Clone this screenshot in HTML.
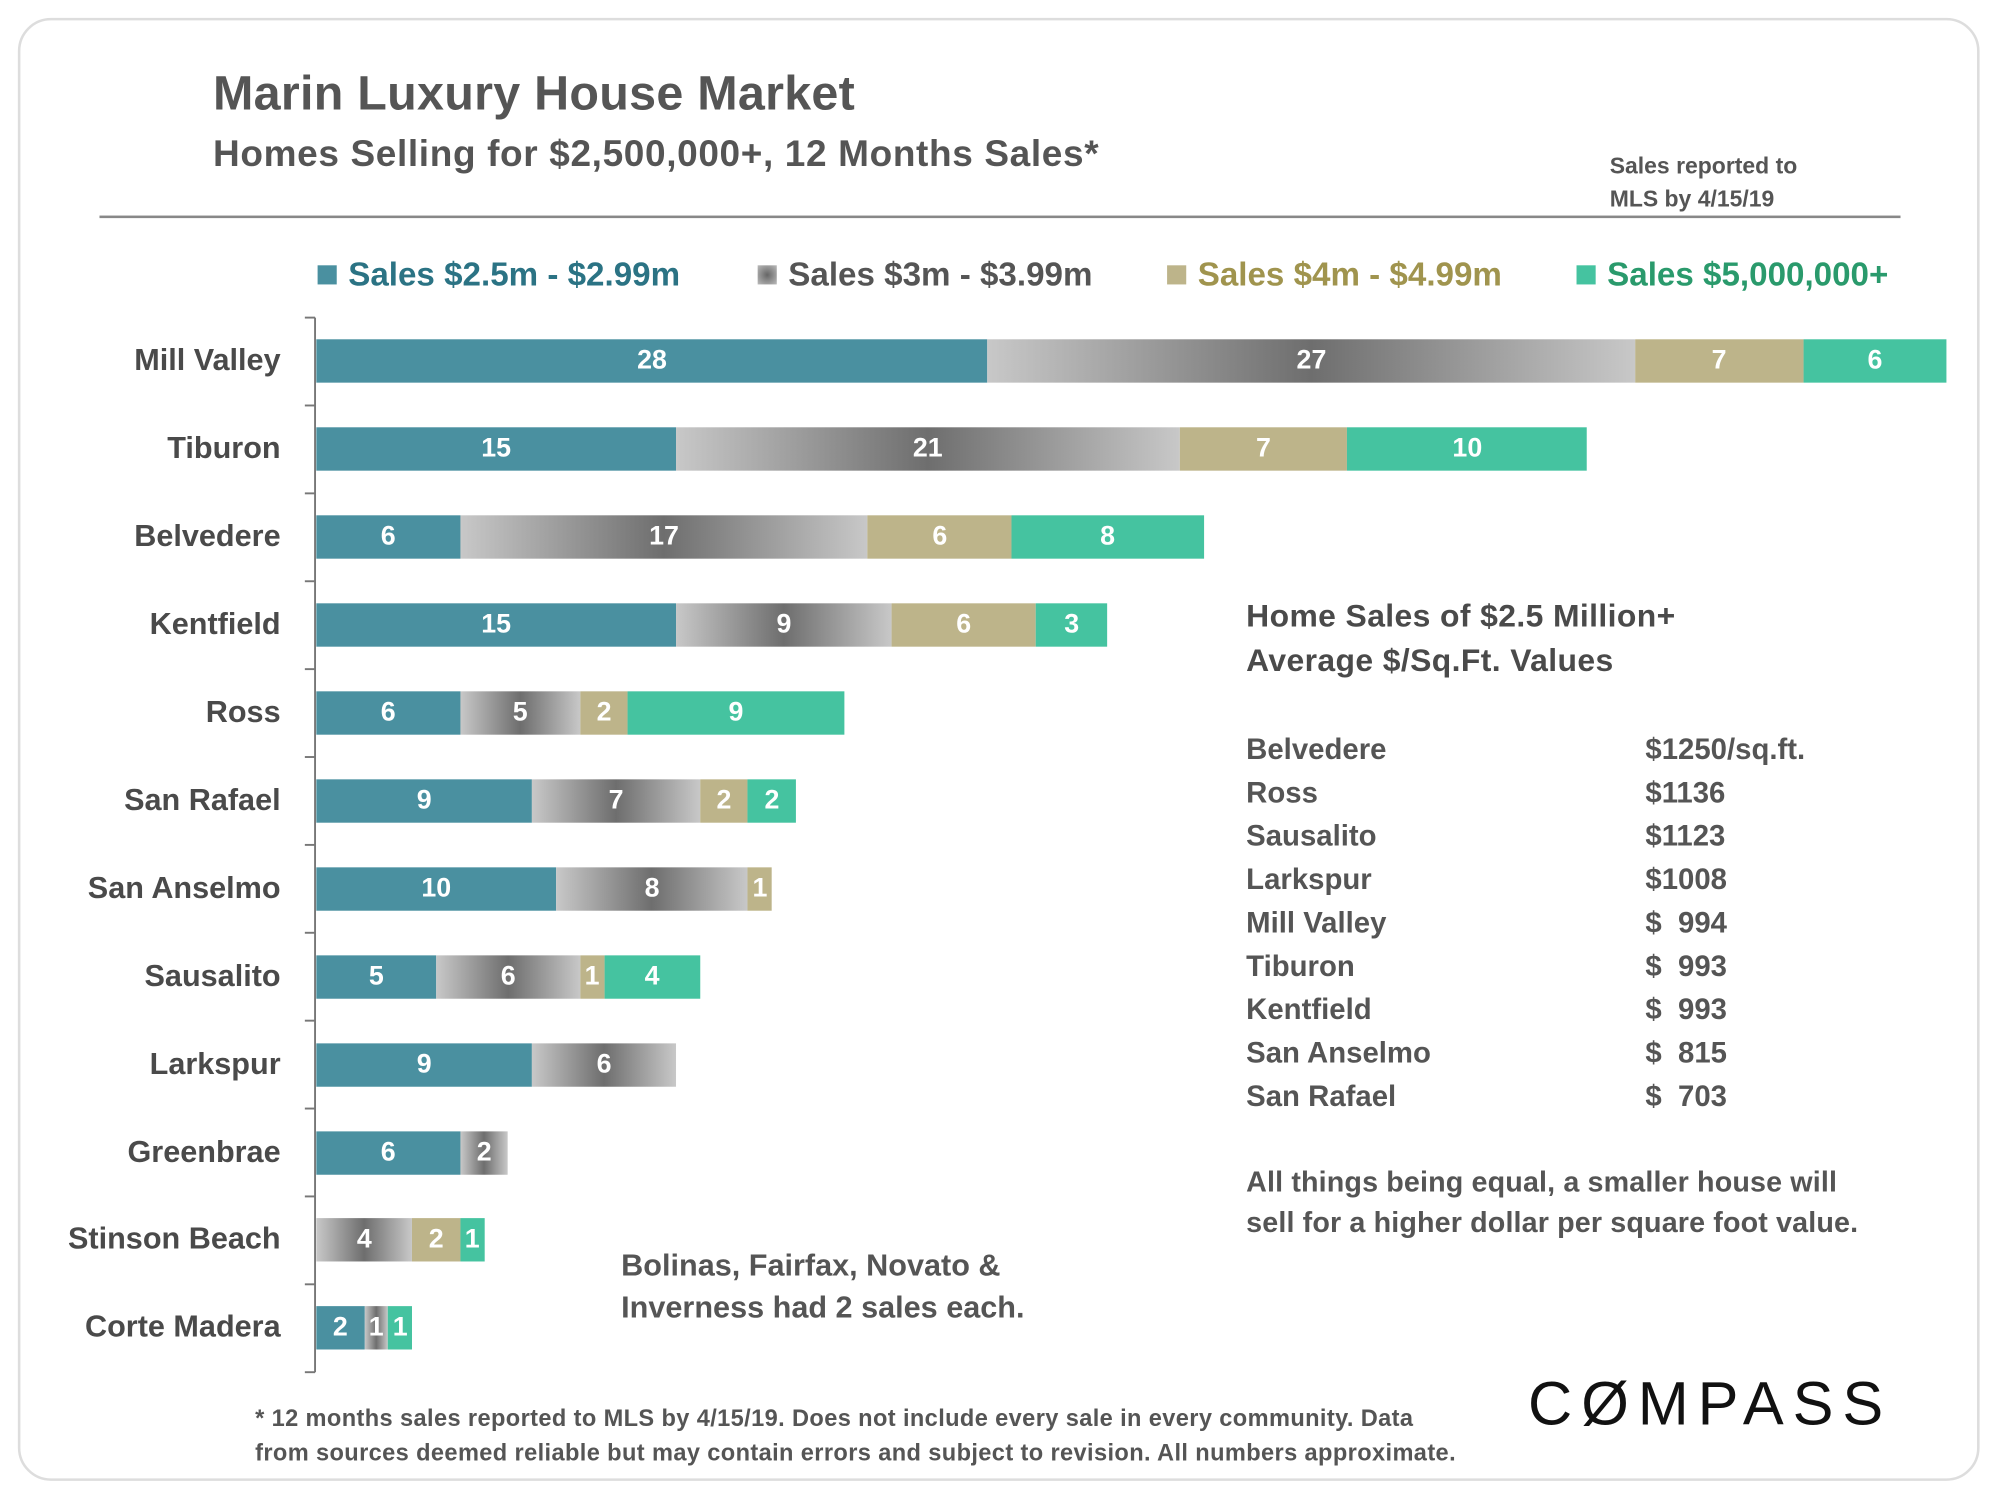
<!DOCTYPE html>
<html><head><meta charset="utf-8">
<style>
html,body{margin:0;padding:0;background:#fff;}
body{width:2000px;height:1500px;overflow:hidden;position:relative;}
#stage{position:absolute;left:0;top:0;width:1568px;height:1176px;transform:scale(1.27551);transform-origin:0 0;font-family:"Liberation Sans",sans-serif;font-weight:bold;color:#555;}
.t{position:absolute;white-space:nowrap;}
.card{position:absolute;left:14px;top:14px;width:1538px;height:1147px;border:2px solid #ddd;border-radius:26px;box-sizing:border-box;}
.leg{position:absolute;top:200px;font-size:26px;letter-spacing:0px;white-space:nowrap;}
.leg i{display:inline-block;width:15px;height:15px;margin-right:9px;vertical-align:1px;}
.cat{position:absolute;right:1348px;font-size:24px;color:#4a4a4a;letter-spacing:0px;white-space:nowrap;transform:translateY(-50%);}
.seg{position:absolute;height:34px;color:#fff;font-size:21px;display:flex;align-items:center;justify-content:center;overflow:visible;}
.pl{font-size:23px;letter-spacing:0px;}
</style></head><body>
<div id="stage">
  <div class="card"></div>
  <div class="t" style="left:167px;top:53px;font-size:38px;color:#555;letter-spacing:0.2px">Marin Luxury House Market</div>
  <div class="t" style="left:167px;top:105px;font-size:29px;color:#555;letter-spacing:0.5px">Homes Selling for $2,500,000+, 12 Months Sales*</div>
  <div class="t" style="left:1262px;top:117px;font-size:18px;line-height:26px;color:#555">Sales reported to<br>MLS by 4/15/19</div>
  <div style="position:absolute;left:78px;top:169px;width:1412px;height:2px;background:#888"></div>

  <div class="leg" style="left:249px;color:#2b7384"><i style="background:#4a90a0"></i>Sales $2.5m - $2.99m</div>
  <div class="leg" style="left:594px;color:#555"><i style="background:radial-gradient(#666,#bbb)"></i>Sales $3m - $3.99m</div>
  <div class="leg" style="left:915px;color:#a0944e"><i style="background:#bdb48a"></i>Sales $4m - $4.99m</div>
  <div class="leg" style="left:1236px;color:#2a9a6c"><i style="background:#45c3a0"></i>Sales $5,000,000+</div>

  <svg id="plot" style="position:absolute;left:0;top:0" width="1568" height="1176"></svg>
  <div id="bars"></div>

  <div class="t" style="left:977px;top:466px;font-size:25px;line-height:35px;color:#4a4a4a;letter-spacing:0.3px">Home Sales of $2.5 Million+<br>Average $/Sq.Ft. Values</div>
  <div id="ppsf"></div>
  <div class="t" style="left:977px;top:911px;font-size:22.5px;line-height:32px;color:#555;letter-spacing:0.1px">All things being equal, a smaller house will<br>sell for a higher dollar per square foot value.</div>
  <div class="t" style="left:487px;top:976px;font-size:24px;line-height:33px;color:#555;letter-spacing:0px">Bolinas, Fairfax, Novato &amp;<br>Inverness had 2 sales each.</div>
  <div class="t" style="left:200px;top:1098px;font-size:18.5px;line-height:27px;color:#555;letter-spacing:0.3px">* 12 months sales reported to MLS by 4/15/19. Does not include every sale in every community. Data<br>from sources deemed reliable but may contain errors and subject to revision. All numbers approximate.</div>
  <div class="t" style="left:1198px;top:1074px;font-size:48px;font-weight:normal;color:#111;letter-spacing:7px">C&#216;MPASS</div>
</div>
<script>
const categories=["Mill Valley","Tiburon","Belvedere","Kentfield","Ross","San Rafael","San Anselmo","Sausalito","Larkspur","Greenbrae","Stinson Beach","Corte Madera"];
const s25=[28,15,6,15,6,9,10,5,9,6,0,2];
const s3=[27,21,17,9,5,7,8,6,6,2,4,1];
const s4=[7,7,6,6,2,2,1,1,0,0,2,0];
const s5=[6,10,8,3,9,2,0,4,0,0,1,1];
const ppsfTowns=["Belvedere","Ross","Sausalito","Larkspur","Mill Valley","Tiburon","Kentfield","San Anselmo","San Rafael"];
const ppsfValues=["$1250/sq.ft.","$1136","$1123","$1008","$  994","$  993","$  993","$  815","$  703"];

const x0=248,pxPer=18.8,top0=249,rowH=68.9,barH=34;
function xs(v){return x0+v*pxPer;}
function yc(i){return top0+rowH*(i+0.5);}
const series=[s25,s3,s4,s5];
const names=["seg-2-5m","seg-3m","seg-4m","seg-5m"];
const fills=["#4a90a0","linear-gradient(90deg,#c8c8c8,#6e6e6e 50%,#c8c8c8)","#bdb48a","#45c3a0"];
const svg=document.getElementById('plot');
const NS="http://www.w3.org/2000/svg";
const axis=document.createElementNS(NS,'line');
axis.setAttribute('x1',247);axis.setAttribute('x2',247);axis.setAttribute('y1',top0);axis.setAttribute('y2',top0+rowH*categories.length);
axis.setAttribute('stroke','#777');axis.setAttribute('stroke-width','1.5');


svg.appendChild(axis);
for(let i=0;i<=categories.length;i++){
  const t=document.createElementNS(NS,'line');
  const y=top0+rowH*i;
  t.setAttribute('x1',239);t.setAttribute('x2',247);t.setAttribute('y1',y);t.setAttribute('y2',y);
  t.setAttribute('stroke','#777');t.setAttribute('stroke-width','1.5');
  
  
  svg.appendChild(t);
}
const bars=document.getElementById('bars');
categories.forEach((c,i)=>{
  const lab=document.createElement('div');
  lab.className='cat';lab.style.top=yc(i)+'px';lab.textContent=c;
  
  
  bars.appendChild(lab);
  let acc=0;
  series.forEach((s,k)=>{
    const v=s[i];if(!v)return;
    const d=document.createElement('div');
    d.className='seg';
    d.style.left=xs(acc)+'px';d.style.width=(xs(acc+v)-xs(acc))+'px';
    d.style.top=(yc(i)-barH/2)+'px';d.style.background=fills[k];
    d.textContent=v;
    
    
    bars.appendChild(d);
    acc+=v;
  });
});
const pp=document.getElementById('ppsf');
ppsfTowns.forEach((t,i)=>{
  const a=document.createElement('div');
  a.className='t pl';a.style.left='977px';a.style.top=(574+i*34)+'px';a.style.color='#555';a.textContent=t;
  
  
  pp.appendChild(a);
  const b=document.createElement('div');
  b.className='t pl';b.style.left='1290px';b.style.top=(574+i*34)+'px';b.style.color='#555';b.style.whiteSpace='pre';b.textContent=ppsfValues[i];
  
  
  pp.appendChild(b);
});
</script>
</body></html>
